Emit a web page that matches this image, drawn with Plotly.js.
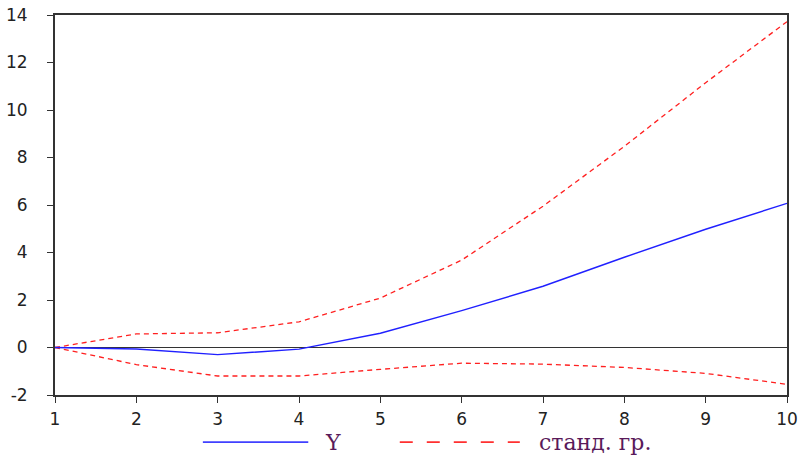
<!DOCTYPE html>
<html><head><meta charset="utf-8">
<script src="https://cdn.plot.ly/plotly-3.0.1.min.js"></script>
<style>body{margin:0;background:#fff}#c{width:804px;height:460px}</style>
</head><body><div id="c"></div>
<script>
var periods = [1,2,3,4,5,6,7,8,9,10];
var yResp  = [0, -0.06, -0.30, -0.07, 0.60, 1.55, 2.58, 3.80, 4.98, 6.07];
var upper  = [0, 0.57, 0.62, 1.08, 2.08, 3.68, 5.95, 8.47, 11.15, 13.72];
var lower  = [0, -0.72, -1.20, -1.20, -0.92, -0.66, -0.70, -0.84, -1.09, -1.55];
var xTicks = [1,2,3,4,5,6,7,8,9,10];
var yTicks = [-2,0,2,4,6,8,10,12,14];
var legendNames = ['Y', 'станд. гр.'];

var traces = [
  {x: periods, y: upper, mode:'lines', line:{color:'#ff2020', width:1.3, dash:'5px,4px'}, showlegend:false, hoverinfo:'skip'},
  {x: periods, y: lower, mode:'lines', line:{color:'#ff2020', width:1.3, dash:'5px,4px'}, showlegend:false, hoverinfo:'skip'},
  {x: periods, y: yResp, mode:'lines', line:{color:'#2020ff', width:1.4}, showlegend:false, hoverinfo:'skip'}
];

var tf = {family:'DejaVu Sans', size:17, color:'#222'};
var layout = {
  width:804, height:460,
  margin:{l:55, r:17, t:15, b:65},
  paper_bgcolor:'#fff', plot_bgcolor:'#fff',
  showlegend:false,
  xaxis:{range:[1,10], tickvals:xTicks, ticktext:xTicks.map(String), showgrid:false, zeroline:false,
         showline:true, mirror:true, linecolor:'#333', linewidth:2, ticks:'outside', ticklen:6, tickcolor:'#333',
         tickfont:tf, ticklabelstandoff:2},
  yaxis:{range:[-2,14], tickvals:yTicks, ticktext:yTicks.map(String), showgrid:false, zeroline:true,
         zerolinecolor:'#333', zerolinewidth:1.4,
         showline:true, mirror:true, linecolor:'#333', linewidth:2, ticks:'outside', ticklen:6, tickcolor:'#333',
         tickfont:tf, ticklabelstandoff:16},
  shapes:[
    {type:'line', xref:'paper', yref:'paper', x0:0.202, x1:0.346, y0:-0.124, y1:-0.124, line:{color:'#4040ff', width:1.6}},
    {type:'line', xref:'paper', yref:'paper', x0:0.471, x1:0.635, y0:-0.124, y1:-0.124, line:{color:'#ff3030', width:1.6, dash:'13px,14px'}}
  ],
  annotations:[
    {xref:'paper', yref:'paper', x:0.366, y:-0.124, xanchor:'left', yanchor:'middle', showarrow:false, text:legendNames[0],
     font:{family:'DejaVu Serif', size:22, color:'#5a1a5a'}},
    {xref:'paper', yref:'paper', x:0.658, y:-0.124, xanchor:'left', yanchor:'middle', showarrow:false, text:legendNames[1],
     font:{family:'DejaVu Serif', size:22, color:'#5a1a5a'}}
  ]
};
Plotly.newPlot('c', traces, layout, {displayModeBar:false, staticPlot:true});
</script></body></html>
